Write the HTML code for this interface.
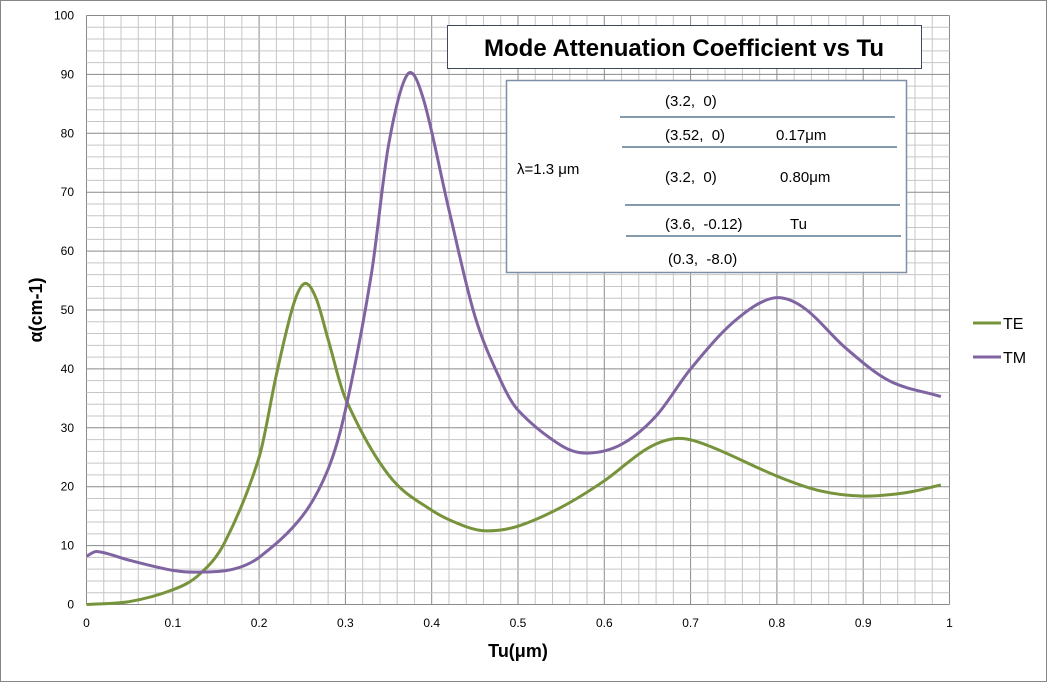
<!DOCTYPE html>
<html><head><meta charset="utf-8"><style>
body{margin:0;background:#fff}
svg{display:block;font-family:"Liberation Sans",sans-serif}
</style></head><body>
<svg id="s" width="1048" height="683" xmlns="http://www.w3.org/2000/svg">
<rect x="0.5" y="0.5" width="1046" height="681" fill="#fff" stroke="#868686"/>
<g id="grid"></g>
<g id="curves"></g>
<g font-size="12" fill="#000" text-anchor="end" id="ylab"></g>
<g font-size="12" fill="#000" text-anchor="middle" id="xlab"></g>
<text x="518" y="657" font-size="18" font-weight="bold" text-anchor="middle">Tu(μm)</text>
<text transform="translate(42,310) rotate(-90)" font-size="18" font-weight="bold" text-anchor="middle">α(cm-1)</text>
<rect x="447.5" y="25.5" width="474" height="43" fill="#fff" stroke="#3e4a5c"/>
<text x="684" y="56" font-size="24" font-weight="bold" text-anchor="middle">Mode Attenuation Coefficient vs Tu</text>
<rect x="506.5" y="80.5" width="400" height="192" fill="#fff" stroke="#7d8fa5" stroke-width="1.5"/>
<g stroke="#5b7a94" stroke-width="1.5">
<line x1="620" y1="117" x2="895" y2="117"/>
<line x1="622" y1="147" x2="897" y2="147"/>
<line x1="625" y1="205" x2="900" y2="205"/>
<line x1="626" y1="236" x2="901" y2="236"/>
</g>
<g font-size="15" fill="#000">
<text x="665" y="106">(3.2,&#160; 0)</text>
<text x="665" y="140">(3.52,&#160; 0)</text><text x="776" y="140">0.17μm</text>
<text x="517" y="174">λ=1.3 μm</text>
<text x="665" y="182">(3.2,&#160; 0)</text><text x="780" y="182">0.80μm</text>
<text x="665" y="229">(3.6,&#160; -0.12)</text><text x="790" y="229">Tu</text>
<text x="668" y="264">(0.3,&#160; -8.0)</text>
</g>
<line x1="973" y1="323" x2="1001" y2="323" stroke="#77933c" stroke-width="3"/>
<text x="1003" y="329" font-size="16">TE</text>
<line x1="973" y1="357" x2="1001" y2="357" stroke="#8064a2" stroke-width="3"/>
<text x="1003" y="363" font-size="16">TM</text>
</svg>
<script>
var X0=86.5,X1=949.5,Y0=604.5,Y1=15.5;
function px(x){return X0+(X1-X0)*x}function py(y){return Y0+(Y1-Y0)*y/100}
var g='';
for(var i=0;i<=50;i++){var x=px(i/50),maj=i%5==0;g+='<line x1="'+x+'" y1="'+Y1+'" x2="'+x+'" y2="'+Y0+'" stroke="'+(maj?'#8a8a8a':'#c6c6c6')+'"/>';}
for(var i=0;i<=50;i++){var y=py(i*2),maj=i%5==0;g+='<line x1="'+X0+'" y1="'+y+'" x2="'+X1+'" y2="'+y+'" stroke="'+(maj?'#8a8a8a':'#c6c6c6')+'"/>';}
document.getElementById('grid').innerHTML=g;
var yl='';for(var v=0;v<=100;v+=10)yl+='<text x="74" y="'+(py(v)+4)+'">'+v+'</text>';
document.getElementById('ylab').innerHTML=yl;
var xl='',lb=['0','0.1','0.2','0.3','0.4','0.5','0.6','0.7','0.8','0.9','1'];
for(var i=0;i<=10;i++)xl+='<text x="'+px(i/10)+'" y="627">'+lb[i]+'</text>';
document.getElementById('xlab').innerHTML=xl;
var TE=[[0,0],[0.05,0.5],[0.1,2.5],[0.13,5],[0.16,10.5],[0.2,25],[0.22,39],[0.24,51],[0.253,54.5],[0.266,52],[0.28,45],[0.3,35],[0.35,22],[0.4,16],[0.44,13.2],[0.465,12.5],[0.5,13.3],[0.55,16.5],[0.6,21],[0.65,26.5],[0.685,28.2],[0.72,27],[0.8,21.8],[0.85,19.3],[0.9,18.4],[0.95,19],[0.99,20.3]];
var TM=[[0,8.2],[0.012,9],[0.05,7.5],[0.1,5.8],[0.13,5.5],[0.17,6],[0.2,8],[0.25,15],[0.28,23],[0.3,33],[0.33,56],[0.35,78],[0.372,90],[0.39,86],[0.42,67],[0.45,49],[0.48,38],[0.5,33],[0.55,27],[0.58,25.7],[0.62,27.2],[0.66,32],[0.7,40],[0.75,48],[0.795,52],[0.83,50.5],[0.88,43.5],[0.93,38],[0.99,35.3]];
function path(P){var n=P.length,m=[];
for(var i=0;i<n;i++){var a=P[Math.max(0,i-1)],c=P[Math.min(n-1,i+1)];m[i]=(c[1]-a[1])/(c[0]-a[0]);}
var d='M'+px(P[0][0])+','+py(P[0][1]);
for(var i=0;i<n-1;i++){var b=P[i],c=P[i+1],h=(c[0]-b[0])/3;
d+=' C'+px(b[0]+h)+','+py(b[1]+m[i]*h)+' '+px(c[0]-h)+','+py(c[1]-m[i+1]*h)+' '+px(c[0])+','+py(c[1]);}
return d;}
document.getElementById('curves').innerHTML='<path d="'+path(TE)+'" fill="none" stroke="#77933c" stroke-width="3"/><path d="'+path(TM)+'" fill="none" stroke="#8064a2" stroke-width="3"/>';
</script>
</body></html>
